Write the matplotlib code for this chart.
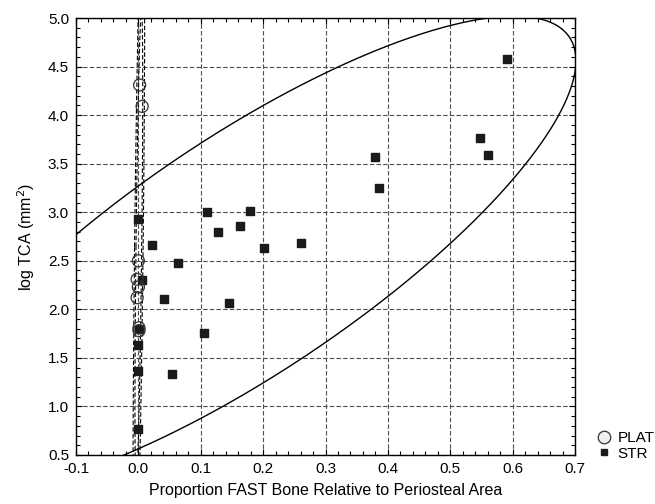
import numpy as np
import matplotlib
matplotlib.use("Agg")
import matplotlib.pyplot as plt
from matplotlib.lines import Line2D
from matplotlib.ticker import MultipleLocator

plt.rcParams["font.family"] = ["Liberation Sans", "DejaVu Sans"]

# PLAT group (open circles)
plat_x = [0.002, 0.006, 0.0, -0.002, 0.0, -0.002, 0.001, 0.001]
plat_y = [4.31, 4.09, 2.50, 2.31, 2.23, 2.12, 1.81, 1.78]

# STR group (filled squares)
str_x = [0.591, 0.547, 0.560, 0.380, 0.385, 0.110, 0.179, 0.128, 0.163,
         0.201, 0.260, 0.146, 0.106, 0.022, 0.064, 0.006, 0.041, 0.0005,
         0.0, 0.0, 0.054, 0.0, 0.0]
str_y = [4.58, 3.76, 3.59, 3.57, 3.245, 3.00, 3.01, 2.80, 2.86,
         2.63, 2.68, 2.07, 1.76, 2.665, 2.48, 2.30, 2.11, 1.80,
         1.635, 1.37, 1.33, 0.77, 2.93]


def prediction_ellipse(x, y, p=0.95, k2=None):
    # 95% prediction ellipse (F based), as drawn by the stats package
    x = np.asarray(x)
    y = np.asarray(y)
    n = len(x)
    m = n - 2
    if k2 is None:
        f = m / 2 * ((1 - p) ** (-2 / m) - 1)
        k2 = 2 * (n - 1) * (n + 1) / (n * m) * f
    cov = np.cov(x, y)
    vals, vecs = np.linalg.eigh(cov)
    t = np.linspace(0, 2 * np.pi, 800)
    circ = np.array([np.cos(t), np.sin(t)])
    pts = vecs @ (np.sqrt(vals * k2)[:, None] * circ)
    return x.mean() + pts[0], y.mean() + pts[1]


fig = plt.figure(figsize=(6.55, 5.04), dpi=100)
ax = fig.add_axes([76 / 655, 1 - 455 / 504, 499 / 655, 437 / 504])

# ellipses
ex, ey = prediction_ellipse(str_x, str_y)
ax.plot(ex, ey, color="black", lw=1.0)
px, py = prediction_ellipse(plat_x, plat_y)
ax.plot(px, py, color="black", lw=0.8, ls=(0, (4, 2)))
px2, py2 = prediction_ellipse(plat_x, plat_y, k2=5.991)
ax.plot(px2, py2, color="black", lw=0.8, ls=(0, (4, 2)))

ax.scatter(str_x, str_y, marker="s", s=28, color="#1a1a1a", zorder=3)
ax.scatter(plat_x, plat_y, marker="o", s=75, facecolors="none",
           edgecolors="#333333", linewidths=0.9, zorder=4)

ax.set_xlim(-0.1, 0.7)
ax.set_ylim(0.5, 5.0)
ax.xaxis.set_major_locator(MultipleLocator(0.1))
ax.xaxis.set_minor_locator(MultipleLocator(0.02))
ax.yaxis.set_major_locator(MultipleLocator(0.5))
ax.yaxis.set_minor_locator(MultipleLocator(0.1))
ax.set_xticklabels([f"{v:.1f}" for v in ax.get_xticks()])
ax.set_yticklabels([f"{v:.1f}" for v in ax.get_yticks()])

ax.tick_params(which="both", direction="in", top=True, right=True,
               labelsize=11, colors="black", pad=5)
ax.tick_params(which="major", length=4, width=0.8)
ax.tick_params(which="minor", length=3, width=0.8)
ax.grid(True, which="major", color="0.3", ls=(0, (4, 2)), lw=0.8)
for sp in ax.spines.values():
    sp.set_linewidth(1.0)

ax.set_xlabel("Proportion FAST Bone Relative to Periosteal Area", fontsize=11.5,
              labelpad=5)
ax.set_ylabel("log TCA (mm$^2$)", fontsize=11.5, labelpad=8)

handles = [
    Line2D([], [], marker="o", ls="none", markersize=9, markerfacecolor="#f0f0f0",
           markeredgecolor="#333333", markeredgewidth=0.9),
    Line2D([], [], marker="s", ls="none", markersize=5, color="#1a1a1a"),
]
fig.legend(handles, ["PLAT", "STR"], loc="upper left",
           bbox_to_anchor=(596 / 655, 1 - 431 / 504), frameon=False,
           fontsize=11, handlelength=1.0, handletextpad=0.4,
           labelspacing=0.1, borderpad=0, borderaxespad=0)

fig.savefig("out.png", dpi=100)
